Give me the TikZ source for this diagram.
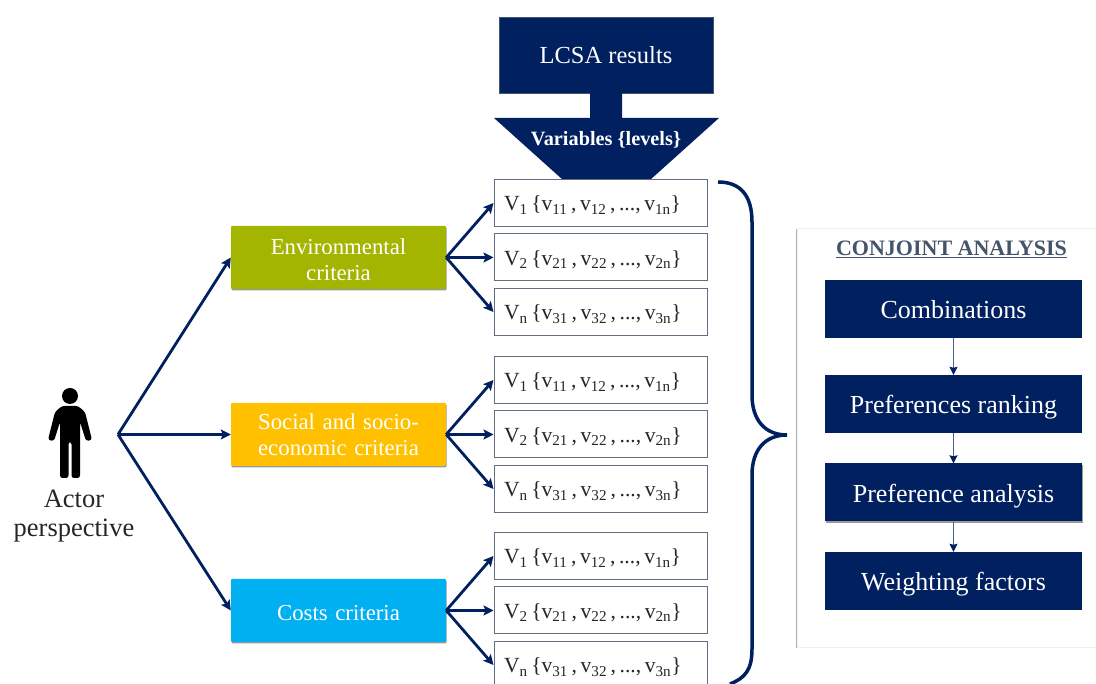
\documentclass[tikz,border=0pt]{standalone}
\usepackage{fontspec}
\setmainfont{Liberation Serif}
\usetikzlibrary{arrows.meta, shadows}
\definecolor{navy}{HTML}{002060}
\definecolor{slate}{HTML}{44546A}
\definecolor{olive}{HTML}{A3B500}
\definecolor{amber}{HTML}{FFC000}
\definecolor{sky}{HTML}{00B0F0}
\definecolor{ink}{HTML}{262626}
\newcommand{\varset}[2]{V\textsubscript{#1}\,\{v\textsubscript{#21}\,,\,v\textsubscript{#22}\,,\,...,\,v\textsubscript{#2n}\}}
\tikzstyle{resultbox} = [rectangle, minimum width=214pt, minimum height=76pt, text centered, draw=slate, fill=navy, text=white, font=\fontsize{24.5}{30}\selectfont]
\tikzstyle{varbox} = [rectangle, minimum width=213pt, minimum height=47pt, text width=193pt, text height=20pt, text depth=4pt, inner sep=0pt, align=left, draw=slate!85, line width=1pt, fill=white, text=ink, font=\fontsize{21.6}{25}\selectfont]
\tikzstyle{critbox} = [rectangle, rounded corners=1pt, minimum width=215pt, minimum height=63pt, text width=205pt, inner sep=0pt, align=center, text=white, font=\fontsize{22.8}{26}\selectfont, drop shadow={shadow xshift=0.5pt, shadow yshift=-1.5pt, opacity=0.4, fill=black}]
\tikzstyle{stagebox} = [rectangle, minimum width=257pt, minimum height=58pt, text height=22pt, text depth=2pt, text centered, fill=navy, text=white, font=\fontsize{26}{30}\selectfont]
\tikzstyle{arrow} = [line width=2.8pt, draw=navy, -{Stealth[length=10pt, width=10pt, inset=2pt]}]
\tikzstyle{thinarrow} = [line width=0.8pt, draw=navy!70, -{Stealth[length=8pt, width=8pt, inset=1pt, color=navy]}]
\begin{document}
\begin{tikzpicture}[x=1pt, y=1pt, align=center, node distance=54.5pt]
    \clip (0,0) rectangle (1096,684);

    % panel behind the conjoint analysis
    \node (panel) [rectangle, minimum width=340pt, minimum height=419pt, fill=white, draw=black!6, drop shadow={shadow xshift=-1.5pt, shadow yshift=-1.5pt, opacity=0.3, fill=black}] at (967,246.5) {};

    \node (lcsa) [resultbox] at (606,629) {LCSA results};
    \fill [navy] (590,591) -- (590,566) -- (494,566) -- (563,504) -- (650,504) -- (719,566) -- (622,566) -- (622,591) -- cycle;
    \node (levels) [text=white, font=\bfseries\fontsize{20.3}{24}\selectfont] at (606,544) {Variables \{levels\}};

    \node (env) [critbox, fill=olive, text height=19.5pt] at (338.5,426.5) {Environmental\\criteria};
    \node (social) [critbox, fill=amber] at (338.5,249.5) {Social and socio-\\economic criteria};
    \node (costs) [critbox, fill=sky, text height=19.5pt] at (338.5,73.5) {Costs criteria};

    \node (envone) [varbox] at (600.5,481) {\varset{1}{1}};
    \node (envtwo) [varbox, below of=envone] {\varset{2}{2}};
    \node (envthree) [varbox, below of=envtwo] {\varset{n}{3}};

    \node (socialone) [varbox] at (600.5,304) {\varset{1}{1}};
    \node (socialtwo) [varbox, below of=socialone] {\varset{2}{2}};
    \node (socialthree) [varbox, below of=socialtwo] {\varset{n}{3}};

    \node (costsone) [varbox] at (600.5,128) {\varset{1}{1}};
    \node (coststwo) [varbox, below of=costsone] {\varset{2}{2}};
    \node (coststhree) [varbox, below of=coststwo] {\varset{n}{3}};

    % actor
    \fill (70,288) circle (8);
    \fill [rounded corners=2.5pt] (60,206) -- (60,262) -- (54,243) -- (48,244) -- (55,272) -- (62,278) -- (78,278) -- (85,272) -- (92,244) -- (86,243) -- (80,262) -- (80,206) -- (71.5,206) -- (71.5,242) -- (68.5,242) -- (68.5,206) -- cycle;
    \node (actor) [text=ink, font=\fontsize{26.5}{29}\selectfont] at (74,168) {Actor\\perspective};
    \coordinate (origin) at (118,249.5);

    \draw [arrow] (origin) -- (env.west);
    \draw [arrow] (origin) -- (social.west);
    \draw [arrow] (origin) -- (costs.west);

    \draw [arrow] (env.east) -- (envone.west);
    \draw [arrow] (env.east) -- (envtwo.west);
    \draw [arrow] (env.east) -- (envthree.west);

    \draw [arrow] (social.east) -- (socialone.west);
    \draw [arrow] (social.east) -- (socialtwo.west);
    \draw [arrow] (social.east) -- (socialthree.west);

    \draw [arrow] (costs.east) -- (costsone.west);
    \draw [arrow] (costs.east) -- (coststwo.west);
    \draw [arrow] (costs.east) -- (coststhree.west);

    % brace
    \draw [navy, line width=3.5pt] (718,502) .. controls (740,502) and (752,489) .. (752,462) -- (752,289) .. controls (752,264) and (765,249) .. (787,249) .. controls (765,249) and (752,234) .. (752,209) -- (752,35) .. controls (752,14) and (745,6) .. (730,0);

    \node (title) [text=slate, font=\bfseries\fontsize{22}{27}\selectfont] at (951.5,435) {\underline{CONJOINT ANALYSIS}};
    \node (combinations) [stagebox] at (953.5,375) {Combinations};
    \node (ranking) [stagebox, node distance=95pt, below of=combinations] {Preferences ranking};
    \node (analysis) [stagebox, node distance=88.5pt, below of=ranking, drop shadow={shadow xshift=0.5pt, shadow yshift=-2pt, opacity=0.4, fill=black}] {Preference analysis};
    \node (weighting) [stagebox, node distance=88.5pt, below of=analysis] {Weighting factors};

    \draw [thinarrow] (combinations) -- (ranking);
    \draw [thinarrow] (ranking) -- (analysis);
    \draw [thinarrow] (analysis) -- (weighting);

\end{tikzpicture}
\end{document}
